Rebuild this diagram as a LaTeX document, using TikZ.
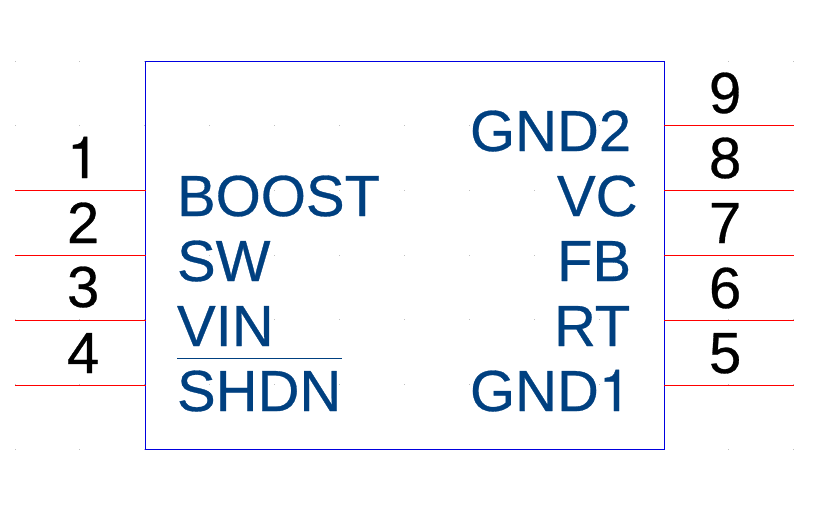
\documentclass[tikz,border=0pt]{standalone}
\usepackage{fontspec}
\setmainfont[FakeBold=0.5]{Liberation Sans}
\newfontfamily\onefont[FakeBold=0.5]{TeX Gyre Heros}
\definecolor{labelblue}{HTML}{004080}
\definecolor{boxblue}{HTML}{0000E0}
\definecolor{pinred}{HTML}{FF0000}
\definecolor{griddot}{HTML}{C0C0C0}
\tikzset{
  chipbox/.style={draw=boxblue,line width=1pt,rectangle,minimum width=518.5pt,minimum height=388pt,inner sep=0pt,outer sep=0pt,anchor=north west},
  pinline/.style={draw=pinred,line width=1pt},
  pinnum/.style={font=\fontsize{58}{58}\selectfont,text=black,inner sep=0pt,outer sep=0pt,anchor=base west},
  pinname/.style={font=\fontsize{58}{58}\selectfont,text=labelblue,inner sep=0pt,outer sep=0pt,anchor=base west},
  griddotstyle/.style={fill=griddot,draw=none}
}
\begin{document}
\begin{tikzpicture}[x=1pt,y=-1pt]
\useasboundingbox (0,0) rectangle (828,507);
\fill[white] (0,0) rectangle (828,507);
\foreach \i in {0,...,12}{\foreach \j in {0,...,6}{
  \fill[griddotstyle] ({14.5+64.9*\i},{60.5+64.7*\j}) rectangle ++(1,1);
}}
\node[chipbox] (chip) at (145.5,61.5) {};
\foreach \n/\y in {a/190.5,b/255.5,c/320.5,d/385.5}{
  \coordinate (\n) at (15,\y);
  \draw[pinline] (\n) -- (\n -| chip.west);
}
\foreach \n/\y in {e/125.5,f/190.5,g/255.5,h/320.5,i/385.5}{
  \coordinate (\n) at (794,\y);
  \draw[pinline] (chip.east |- \n) -- (\n);
}
\node[pinnum] (n1) at (67,178) {\onefont 1};
\node[pinnum] (n2) at (67,243) {2};
\node[pinnum] (n3) at (67,307) {3};
\node[pinnum] (n4) at (67,373) {4};
\node[pinnum] (n9) at (709,113) {9};
\node[pinnum] (n8) at (709,178) {8};
\node[pinnum] (n7) at (709,243) {7};
\node[pinnum] (n6) at (709,308) {6};
\node[pinnum] (n5) at (709,373) {5};
\node[pinname] (boost) at (177,216) {BOOST};
\node[pinname] (sw) at (177,281) {SW};
\node[pinname] (vin) at (177,346) {VIN};
\node[pinname] (shdn) at (177,411) {SHDN};
\node[pinname] (gndb) at (470,151) {GND2};
\node[pinname] (vc) at (557,216) {VC};
\node[pinname] (fb) at (557,281) {FB};
\node[pinname] (rt) at (554,346) {RT};
\node[pinname] (gnda) at (470,411) {GND{\onefont 1}};
\draw[labelblue,line width=1pt] (177,358) -- (342,358);
\end{tikzpicture}
\end{document}
